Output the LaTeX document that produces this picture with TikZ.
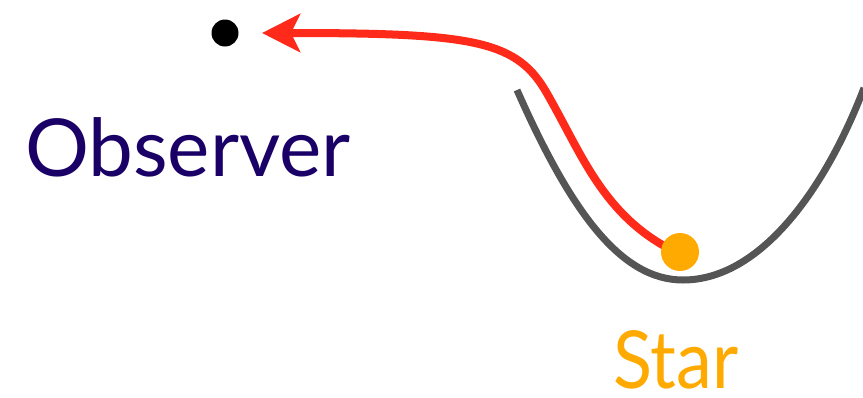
\documentclass[tikz,border=0pt]{standalone}
\usepackage{fontspec}
\setmainfont{Lato}
\usetikzlibrary{arrows.meta}
\definecolor{obsblue}{HTML}{1A0066}
\definecolor{starorange}{HTML}{FFAA00}
\definecolor{pathred}{HTML}{FF2A1A}
\definecolor{wellgray}{HTML}{555555}
\tikzset{
  body/.style={circle, inner sep=0pt, outer sep=0pt},
  label text/.style={anchor=base west, inner sep=0pt, text depth=0pt, font=\fontsize{80}{80}\selectfont},
  well/.style={draw=wellgray, line width=7pt},
  ray/.style={draw=pathred, line width=8pt, -{Stealth[length=38pt,width=38pt,inset=9pt]}}
}
\begin{document}
\begin{tikzpicture}[x=1pt,y=-1pt]
  \useasboundingbox (0,0) rectangle (863,397);
  % potential well
  \draw[well] (517,90) .. controls (570,210) and (620,280) .. (683,280)
                       .. controls (760,280) and (825,190) .. (864,88);
  % observer and star
  \node[body, fill=black, minimum size=27pt] (obs) at (225,33) {};
  \coordinate (tip) at (262,33);
  \coordinate (bend) at (545,90);
  \draw[ray] (666,247) .. controls (600,210) and (580,150) .. (bend)
                       .. controls (515,40) and (470,33) .. (tip);
  \node[body, fill=starorange, minimum size=38pt] (star) at (680,252) {};
  % labels
  \node[label text, text=obsblue] (obslabel) at (25,176) {Observer};
  \node[label text, text=starorange] (starlabel) at (613,388) {\scalebox{0.9}[1]{Star}};
\end{tikzpicture}
\end{document}
